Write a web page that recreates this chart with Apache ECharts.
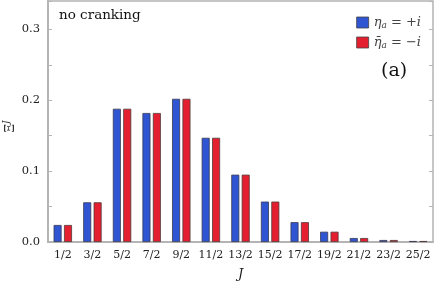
<!DOCTYPE html>
<html><head><meta charset="utf-8">
<script src="https://cdn.jsdelivr.net/npm/echarts@6/dist/echarts.min.js"></script>
<style>html,body{margin:0;padding:0;background:#fff}#c{width:436px;height:283px}</style>
</head><body><div id="c"></div>
<script>
const categories = ['1/2','3/2','5/2','7/2','9/2','11/2','13/2','15/2','17/2','19/2','21/2','23/2','25/2'];
const etaPlus = [0.024,0.056,0.188,0.182,0.202,0.147,0.095,0.057,0.028,0.0145,0.0056,0.0028,0.0014];
const etaMinus = [0.024,0.056,0.188,0.182,0.202,0.147,0.095,0.057,0.028,0.0145,0.0056,0.0028,0.0014];
const yTicks = [0,0.1,0.2,0.3];

const F = 'DejaVu Serif';
const axisGrey = '#b4b4b4';
const chart = echarts.init(document.getElementById('c'), null, {renderer:'canvas'});
const supRich = {
  i:{fontFamily:F,fontStyle:'italic',fontSize:13,color:'#444'},
  n:{fontFamily:F,fontSize:13,color:'#444'},
  s:{fontFamily:F,fontStyle:'italic',fontSize:9,color:'#444',padding:[6,0,0,0]}
};
chart.setOption({
  animation:false,
  grid:{left:48,right:3,top:1,bottom:41,show:true,borderColor:axisGrey,borderWidth:1.5,
        containLabel:false,outerBoundsMode:'none'},
  legend:{
    orient:'vertical',right:10,top:11,itemWidth:12,itemHeight:11,itemGap:6,icon:'rect',
    itemStyle:{borderColor:'#444',borderWidth:0.8},
    textStyle:{rich:supRich},
    formatter:function(name){
      return name==='plus' ? '{i|η}{s|a}{n| = +}{i|i}' : '{i|η̄}{s|a}{n| = −}{i|i}';
    },
    data:['plus','minus']
  },
  xAxis:[{
    type:'category',data:categories,
    axisLine:{lineStyle:{color:axisGrey,width:2}},
    axisTick:{inside:true,alignWithLabel:true,length:4,lineStyle:{color:axisGrey}},
    axisLabel:{fontFamily:F,fontSize:11,color:'#222',margin:8,interval:0},
    name:'J',nameLocation:'middle',nameGap:26,nameMoveOverlap:false,
    nameTextStyle:{fontFamily:F,fontStyle:'italic',fontSize:13,color:'#222'}
  },{
    type:'category',data:categories,position:'top',
    axisLine:{show:false},
    axisTick:{inside:true,alignWithLabel:true,length:4,lineStyle:{color:axisGrey}},
    axisLabel:{show:false}
  }],
  yAxis:[{
    type:'value',min:0,max:0.34,interval:0.05,
    axisLine:{show:true,lineStyle:{color:axisGrey,width:2}},
    axisTick:{show:true,inside:true,length:4,lineStyle:{color:axisGrey}},
    splitLine:{show:false},
    axisLabel:{fontFamily:F,fontSize:11.5,color:'#222',margin:8,
      formatter:function(v){
        for(const t of yTicks){ if(Math.abs(v-t)<1e-9) return t.toFixed(1); }
        return '';
      }},
    name:'Ξ{sup|J}',nameLocation:'middle',nameGap:29,nameRotate:90,nameMoveOverlap:false,
    nameTextStyle:{fontFamily:F,fontSize:12,color:'#333',padding:[0,10,0,0],
      rich:{sup:{fontFamily:F,fontStyle:'italic',fontSize:9,color:'#333',padding:[0,0,8,0]}}}
  },{
    type:'value',min:0,max:0.34,interval:0.05,position:'right',
    axisLine:{show:false},
    axisTick:{show:true,inside:true,length:4,lineStyle:{color:axisGrey}},
    axisLabel:{show:false},splitLine:{show:false}
  }],
  series:[{
    name:'plus',type:'bar',data:etaPlus,barWidth:8,barGap:'30%',
    itemStyle:{color:'#2f55d3',borderColor:'#3a3a50',borderWidth:0.8}
  },{
    name:'minus',type:'bar',data:etaMinus,barWidth:8,barGap:'30%',
    itemStyle:{color:'#e41f2f',borderColor:'#503a3a',borderWidth:0.8}
  }],
  graphic:[
    {type:'text',left:59,top:8,style:{text:'no cranking',font:'13.5px "DejaVu Serif"',fill:'#111'}},
    {type:'text',left:381,top:62,style:{text:'(a)',font:'19px "DejaVu Serif"',fill:'#111'}}
  ]
});
</script></body></html>
